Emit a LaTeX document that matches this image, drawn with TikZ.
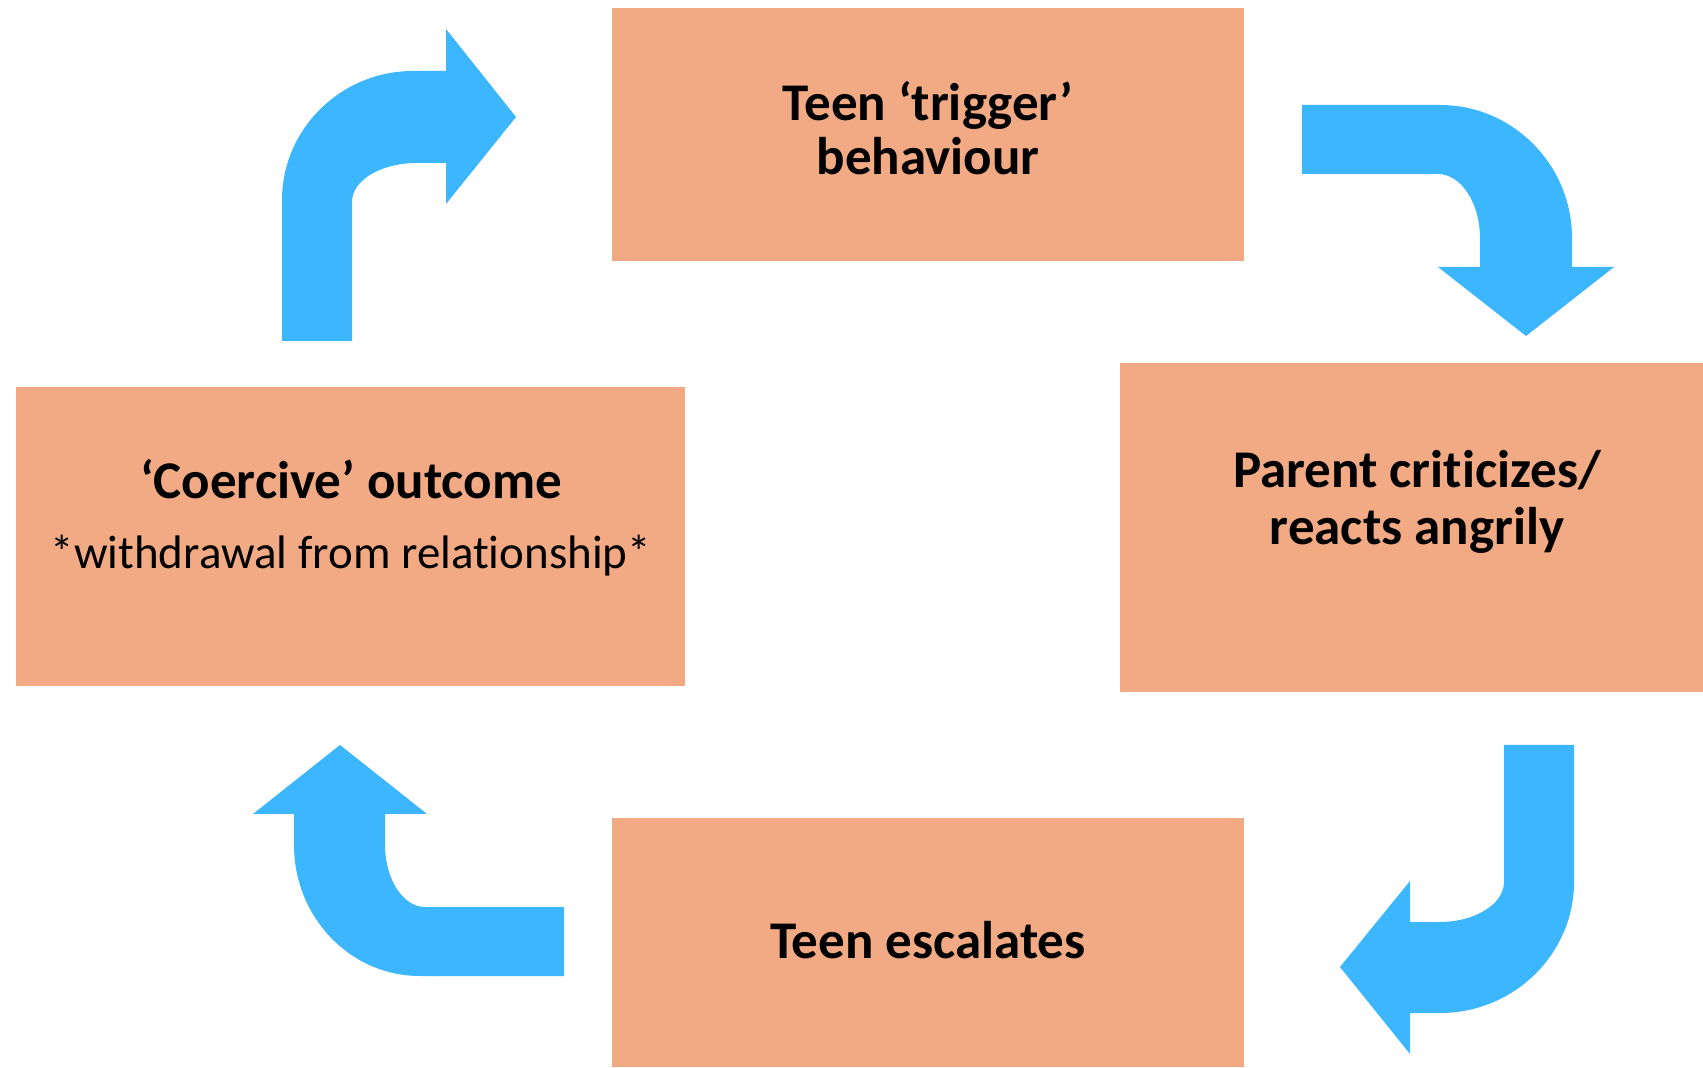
\documentclass[tikz,border=0pt]{standalone}
\usepackage{fontspec}
\setmainfont{Carlito}[Ligatures=NoCommon]
\definecolor{boxfill}{HTML}{F1AA84}
\definecolor{arrowblue}{HTML}{3BB6FF}
\begin{document}
\begin{tikzpicture}[x=0.5pt,y=-0.5pt,
  box/.style={fill=boxfill,draw=none,inner sep=0pt,rectangle},
  big/.style={font=\bfseries\fontsize{26.5}{29}\selectfont,anchor=base,inner sep=0pt},
  small/.style={font=\fontsize{23.5}{27}\selectfont,anchor=base,inner sep=0pt},
  blockarrow/.style={fill=arrowblue,draw=none}]
\useasboundingbox (0,0) rectangle (1703,1068);
% boxes
\node[box,minimum width=316.05pt,minimum height=126.55pt] (top) at (927.55,134.15) {};
\node[box,minimum width=291.6pt,minimum height=164.5pt] (right) at (1411.4,527.3) {};
\node[box,minimum width=316.05pt,minimum height=124.6pt] (bottom) at (927.55,942.4) {};
\node[box,minimum width=334.5pt,minimum height=149.85pt] (left) at (350.8,536.55) {};
% texts
\node[big] (t1) at (928,120.5) {Teen ‘trigger’};
\node[big] (t2) at (928,175) {behaviour};
\node[big] (r1) at (1417,488) {Parent criticizes/};
\node[big] (r2) at (1417,545) {reacts angrily};
\node[big] (l1) at (351,498.5) {‘Coercive’ outcome};
\node[small] (l2) at (351,569) {*withdrawal from relationship*};
\node[big] (b1) at (928,958) {Teen escalates};
% block arrows
\path[blockarrow] (282,341) -- (282,200) .. controls +(0,-71) and +(-72,0) .. (413,71)
  -- (446,71) -- (446,29) -- (516,117) -- (446,204) -- (446,163) -- (417,163)
  .. controls +(-36,0) and +(0,-22) .. (352,202) -- (352,341) -- cycle;
\path[blockarrow] (1302,105) -- (1440,105) .. controls +(73,0) and +(0,-73) .. (1572,238)
  -- (1572,267) -- (1614,267) -- (1526,336) -- (1438,267) -- (1480,267) -- (1480,238)
  .. controls +(0,-35) and +(23,0) .. (1438,174) -- (1302,174) -- cycle;
\path[blockarrow] (1504,745) -- (1574,745) -- (1574,882) .. controls +(0,72) and +(74,0) .. (1440,1013)
  -- (1410,1013) -- (1410,1054) -- (1340,967) -- (1410,881) -- (1410,922) -- (1440,922)
  .. controls +(35,0) and +(0,22) .. (1504,882) -- cycle;
\path[blockarrow] (564,976) -- (420,976) .. controls +(-70,0) and +(0,72) .. (294,845)
  -- (294,814) -- (253,814) -- (340,745) -- (427,814) -- (385,814) -- (385,845)
  .. controls +(0,34) and +(-22,0) .. (425,907) -- (564,907) -- cycle;
\end{tikzpicture}
\end{document}
